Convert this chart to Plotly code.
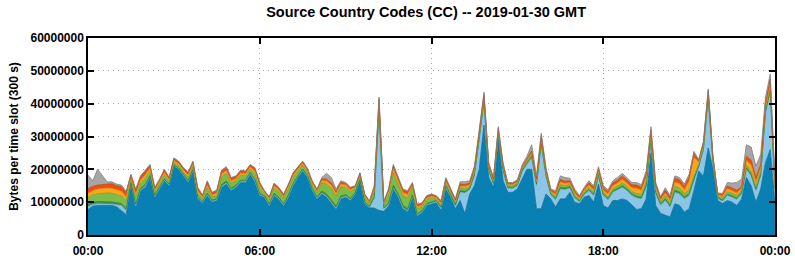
import pandas as pd
import plotly.graph_objects as go

# 10-minute slots over the day (values in millions of bytes per 300 s slot)
times = pd.date_range("2019-01-30 00:00", "2019-01-31 00:00", freq="10min")

blue = [7.8, 8.8, 9.0, 9.0, 9.2, 9.0, 8.6, 7.5, 6.2, 15.5, 8.5, 13.5, 14.5, 17.5, 11.5, 14.0, 16.5, 15.0, 21.0, 20.0,
        18.0, 16.0, 19.5, 11.0, 9.8, 12.0, 10.0, 10.5, 14.5, 15.5, 13.5, 14.5, 16.0, 16.0, 18.5, 16.0, 12.0,
        11.5, 8.8, 12.0, 10.8, 8.8, 11.5, 15.0, 17.5, 19.5, 17.5, 13.5, 11.0, 12.5, 11.5, 9.5, 7.8, 11.0, 11.5, 10.5, 12.5,
        16.5, 9.5, 8.3, 8.2, 7.5, 7.2, 8.8, 14.0, 11.5, 8.0, 7.0, 11.5, 5.8, 6.8, 9.0, 9.5,
        9.8, 7.5, 14.0, 11.5, 8.0, 10.5, 6.5, 12.5, 15.0, 20.0, 33.5, 17.5, 14.5, 29.0, 16.5, 13.0, 13.0, 14.0, 16.8, 20.0,
        20.0, 8.0, 8.0, 12.5, 11.0, 8.5, 11.0, 11.0, 13.0, 10.0, 9.5, 11.5, 12.0, 10.0, 15.5, 9.0,
        8.2, 10.5, 10.5, 11.0, 10.5, 9.0, 7.8, 8.0, 11.0, 25.0, 9.0, 6.6, 6.0, 5.5, 9.5, 9.0, 7.0, 8.0, 13.5, 19.5,
        18.0, 26.5, 20.0, 10.5, 9.6, 10.5, 10.0, 9.0, 11.0, 17.5, 15.0, 10.0, 14.0, 22.0, 26.0, 9.5]

lightblue = [0.8, 0.5, 0.5, 0.5, 0.4, 0.4, 0.6, 1.5, 1.2, 0.2, 0.3, 0.2, 0.3, 0.2, 0.2, 0.2, 0.2, 0.2, 0.1, 0.1,
             0.1, 0.2, 0.2, 0.2, 0.1, 0.2, 0.2, 0.2, 0.3, 0.3, 0.2, 0.2, 0.2, 0.2, 0.2, 0.3, 0.2,
             0.1, 0.2, 0.2, 0.2, 0.2, 0.2, 0.2, 0.2, 0.2, 0.2, 0.2, 0.2, 0.3, 0.3, 0.4, 0.3, 0.3, 0.3, 0.2, 0.1,
             0.1, 0.2, 0.1, 3.0, 30.0, 0.8, 0.3, 0.3, 0.3, 0.3, 0.3, 0.2, 0.2, 0.2, 0.2, 0.2,
             0.4, 0.6, 0.5, 0.4, 0.8, 2.5, 6.3, 1.3, 3.0, 9.0, 7.0, 2.0, 0.8, 1.5, 3.0, 1.2, 1.2, 1.0, 2.5, 1.5,
             3.5, 7.0, 19.5, 5.2, 1.2, 2.2, 3.0, 2.8, 1.3, 1.2, 0.6, 0.8, 1.5, 2.0, 2.3, 3.0,
             2.5, 2.5, 3.2, 3.5, 3.0, 3.0, 3.5, 3.0, 3.5, 3.5, 3.5, 2.5, 4.5, 3.0, 3.5, 3.5, 4.0, 4.0, 3.0, 1.2,
             8.0, 15.0, 2.0, 0.6, 0.7, 1.5, 1.5, 1.8, 1.5, 2.5, 3.0, 3.5, 4.0, 15.0, 17.5, 4.0]

darkgreen = [0.8, 0.7, 0.7, 0.7, 0.7, 0.7, 0.6, 0.6, 0.6, 0.3, 0.6, 0.5, 0.6, 0.4, 0.4, 0.4, 0.4, 0.3, 0.3, 0.3,
             0.3, 0.4, 0.3, 0.4, 0.3, 0.5, 0.4, 0.4, 0.6, 0.6, 0.5, 0.5, 0.5, 0.5, 0.4, 0.6, 0.5,
             0.3, 0.4, 0.5, 0.5, 0.5, 0.5, 0.5, 0.4, 0.4, 0.4, 0.4, 0.4, 0.6, 0.7, 0.8, 0.7, 0.6, 0.5, 0.5, 0.3,
             0.3, 0.4, 0.3, 0.4, 1.0, 0.3, 0.6, 0.8, 0.7, 0.7, 0.7, 0.5, 0.4, 0.4, 0.4, 0.4,
             0.3, 0.4, 0.5, 0.3, 0.4, 0.5, 0.5, 0.4, 0.5, 0.5, 0.5, 0.4, 0.4, 0.4, 0.4, 0.3, 0.3, 0.3, 0.4, 0.4,
             0.5, 0.5, 0.6, 0.5, 0.3, 0.4, 0.5, 0.5, 0.4, 0.4, 0.3, 0.3, 0.4, 0.4, 0.4, 0.4,
             0.4, 0.4, 0.4, 0.5, 0.5, 0.5, 0.5, 0.5, 0.6, 0.6, 0.5, 0.4, 0.5, 0.5, 0.6, 0.6, 0.6, 0.6, 0.6, 0.3,
             0.4, 0.6, 0.4, 0.3, 0.4, 0.4, 0.4, 0.4, 0.4, 0.5, 0.5, 0.5, 0.5, 0.6, 0.7, 0.5]

lightgreen = [2.0, 2.2, 2.3, 2.5, 2.5, 2.6, 2.5, 2.3, 2.4, 1.0, 2.0, 1.6, 1.8, 1.3, 0.9, 0.9, 1.1, 0.8, 0.7, 0.7,
              0.7, 1.0, 0.9, 1.1, 0.8, 1.6, 0.9, 1.0, 2.3, 2.3, 1.6, 1.3, 1.5, 1.3, 1.0, 1.7, 1.6,
              0.8, 1.2, 1.6, 1.6, 1.6, 1.8, 1.8, 1.4, 1.2, 1.1, 1.2, 1.2, 2.5, 3.0, 3.5, 3.0, 2.8, 2.2, 2.0, 1.2,
              1.2, 1.3, 0.9, 1.6, 1.0, 0.8, 2.6, 3.8, 3.0, 3.0, 3.3, 2.2, 1.6, 1.2, 1.2, 1.2,
              0.5, 0.7, 0.9, 0.6, 0.6, 0.8, 0.8, 0.6, 0.7, 0.7, 0.7, 0.6, 0.5, 0.6, 0.6, 0.4, 0.4, 0.4, 0.4, 0.5,
              0.6, 0.6, 0.8, 0.6, 0.4, 0.6, 0.8, 0.7, 0.6, 0.6, 0.4, 0.5, 0.6, 0.6, 0.6, 0.6,
              0.6, 0.6, 0.7, 0.8, 0.8, 0.7, 0.8, 0.8, 1.0, 0.9, 0.7, 0.6, 1.0, 0.8, 1.3, 1.2, 1.0, 1.0, 1.0, 0.5,
              0.6, 0.8, 0.5, 0.4, 0.6, 0.8, 0.8, 0.8, 0.7, 0.8, 0.8, 0.7, 0.8, 0.8, 0.9, 0.6]

orange = [1.3, 1.3, 1.5, 1.5, 1.5, 1.5, 1.4, 1.4, 1.2, 0.6, 1.1, 0.9, 1.1, 0.9, 0.6, 0.6, 0.8, 0.5, 0.6, 0.6,
          0.6, 0.7, 0.7, 0.8, 0.5, 0.9, 0.6, 0.7, 0.9, 0.9, 0.7, 0.6, 0.6, 0.6, 0.6, 0.8, 0.7,
          0.4, 0.5, 0.7, 0.6, 0.6, 0.7, 0.7, 0.6, 0.5, 0.5, 0.5, 0.5, 0.7, 0.9, 1.0, 0.9, 0.8, 0.7, 0.6, 0.4,
          0.4, 0.5, 0.4, 0.7, 1.0, 0.5, 0.8, 1.2, 0.9, 0.9, 1.0, 0.7, 0.6, 0.5, 0.5, 0.5,
          0.4, 0.5, 0.6, 0.5, 0.5, 0.6, 0.7, 0.5, 0.6, 0.6, 0.6, 0.5, 0.4, 0.5, 0.5, 0.4, 0.4, 0.4, 0.4, 0.4,
          0.5, 0.5, 0.7, 0.6, 0.4, 0.6, 0.8, 0.7, 0.6, 0.6, 0.4, 0.5, 0.7, 0.7, 0.7, 0.7,
          0.8, 1.0, 1.0, 1.2, 1.0, 1.2, 1.6, 1.3, 1.5, 1.2, 0.8, 0.5, 0.8, 0.8, 1.2, 1.3, 1.2, 2.8, 5.5, 0.7,
          0.6, 0.6, 0.4, 0.4, 0.5, 0.9, 0.8, 0.8, 0.6, 1.5, 2.0, 1.5, 1.2, 0.8, 1.2, 0.6]

red = [1.4, 1.3, 1.2, 1.2, 1.3, 1.4, 1.3, 1.4, 1.3, 0.7, 1.1, 1.0, 1.1, 0.9, 0.7, 0.7, 0.8, 0.6, 0.6, 0.6,
       0.6, 0.7, 0.7, 0.8, 0.5, 1.0, 0.7, 0.7, 0.9, 0.9, 0.8, 0.7, 0.8, 0.7, 0.6, 0.8, 0.8,
       0.3, 0.4, 0.6, 0.6, 0.6, 0.6, 0.6, 0.5, 0.5, 0.4, 0.5, 0.5, 0.5, 0.6, 0.6, 0.5, 0.6, 0.5, 0.5, 0.3,
       0.3, 0.4, 0.3, 0.8, 1.0, 0.5, 0.7, 1.0, 0.8, 0.8, 0.9, 0.7, 0.6, 0.5, 0.5, 0.5,
       0.4, 0.5, 0.6, 0.5, 0.4, 0.6, 0.6, 0.5, 0.6, 0.6, 0.6, 0.5, 0.5, 0.5, 0.5, 0.4, 0.4, 0.4, 0.4, 0.4,
       0.5, 0.5, 0.7, 0.6, 0.4, 0.6, 0.8, 0.7, 0.6, 0.6, 0.5, 0.5, 0.7, 0.7, 0.7, 0.7,
       0.7, 0.8, 0.9, 1.0, 0.9, 0.9, 1.0, 0.9, 1.0, 0.9, 0.8, 0.6, 0.9, 0.8, 1.2, 1.2, 1.0, 1.2, 1.2, 0.5,
       0.5, 0.5, 0.4, 0.3, 0.5, 0.8, 0.8, 0.8, 0.6, 1.2, 1.5, 1.3, 1.0, 0.8, 1.2, 0.6]

gray = [4.2, 1.7, 4.8, 2.6, 0.6, 0.6, 0.5, 0.5, 0.4, 0.2, 0.4, 0.3, 0.4, 0.3, 0.2, 0.2, 0.2, 0.2, 0.2, 0.2,
        0.2, 0.2, 0.2, 0.2, 0.2, 0.3, 0.2, 0.2, 0.3, 0.3, 0.2, 0.2, 0.2, 0.2, 0.2, 0.3, 0.2,
        0.1, 0.2, 0.2, 0.2, 0.2, 0.2, 0.2, 0.2, 0.2, 0.2, 0.2, 0.2, 0.4, 1.8, 1.7, 0.8, 0.4, 0.3, 0.3, 0.2,
        0.2, 0.2, 0.1, 0.3, 0.5, 0.2, 0.2, 0.4, 0.3, 0.3, 0.3, 0.2, 0.2, 0.2, 0.2, 0.2,
        0.2, 0.3, 0.4, 0.2, 0.3, 0.7, 0.8, 0.7, 0.6, 0.6, 0.6, 0.5, 0.4, 0.5, 0.5, 0.3, 0.3, 0.3, 0.4, 0.8,
        1.9, 0.9, 0.7, 0.5, 0.3, 0.6, 1.1, 1.1, 0.8, 0.6, 0.3, 0.4, 0.6, 0.6, 0.6, 0.6,
        0.6, 0.7, 0.8, 0.8, 0.8, 0.7, 0.8, 0.8, 0.9, 0.9, 0.7, 0.5, 0.7, 0.6, 0.7, 0.7, 0.7, 0.9, 0.7, 0.3,
        0.4, 0.5, 0.3, 0.3, 0.4, 1.1, 1.5, 2.4, 2.2, 3.5, 4.0, 3.5, 3.0, 2.0, 1.5, 1.2]

series = [
    ("blue", blue, "#0880b4", "#066a96"),
    ("lightblue", lightblue, "#8dc5e6", "#6aa9cf"),
    ("darkgreen", darkgreen, "#3f8f3a", "#2f7a2c"),
    ("lightgreen", lightgreen, "#7cbd4a", "#62a33a"),
    ("orange", orange, "#fca41c", "#e08a10"),
    ("red", red, "#e8500f", "#c43e08"),
    ("gray", gray, "#a6a6a6", "#808080"),
]

fig = go.Figure()
for name, vals, fillc, linec in series:
    fig.add_trace(go.Scatter(
        x=times, y=[v * 1e6 for v in vals], name=name, mode="lines",
        stackgroup="one", fillcolor=fillc,
        line=dict(color=linec, width=0.8),
        hoverinfo="skip",
    ))

font_family = "Liberation Sans, Arial, sans-serif"
fig.update_layout(
    width=795, height=260,
    margin=dict(l=88, r=20, t=38, b=25, autoexpand=False),
    paper_bgcolor="white", plot_bgcolor="white",
    showlegend=False,
    title=dict(text="Source Country Codes (CC) -- 2019-01-30 GMT",
               x=0.536, xanchor="center", y=0.955, yanchor="middle",
               font=dict(family=font_family, size=14.5, color="black", weight="bold")),
    font=dict(family=font_family, size=12, color="black"),
)
fig.update_xaxes(
    type="date", automargin=False,
    range=["2019-01-30 00:00", "2019-01-31 00:00"],
    tickformat="%H:%M", dtick=6 * 3600 * 1000,
    tick0="2019-01-30 00:00",
    showline=True, linecolor="black", linewidth=1.5, mirror="ticks",
    ticks="inside", ticklen=6, tickcolor="black", tickwidth=1.5,
    ticklabelstandoff=4,
    showgrid=True, gridcolor="#a8a8a8", griddash="1px,4px", gridwidth=1,
    tickfont=dict(family=font_family, size=12, color="black", weight="bold"),
    zeroline=False,
)
fig.update_yaxes(
    automargin=False,
    range=[0, 60e6], dtick=10e6, tickformat="d",
    showline=True, linecolor="black", linewidth=1.5, mirror="ticks",
    ticks="inside", ticklen=6, tickcolor="black", tickwidth=1.5,
    showgrid=True, gridcolor="#a8a8a8", griddash="1px,4px", gridwidth=1,
    tickfont=dict(family=font_family, size=12, color="black", weight="bold"),
    title=dict(text="Bytes per time slot (300 s)", standoff=9,
               font=dict(family=font_family, size=12, color="black", weight="bold")),
    zeroline=False,
)

fig.write_html("out.html")
